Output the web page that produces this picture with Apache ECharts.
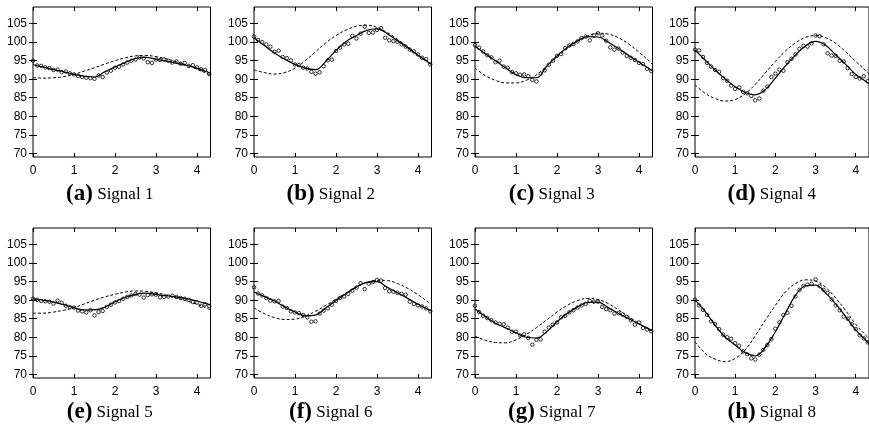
<!DOCTYPE html>
<html>
<head>
<meta charset="utf-8">
<script src="https://cdn.jsdelivr.net/npm/echarts@6/dist/echarts.min.js"></script>
<style>
  html, body { margin: 0; padding: 0; background: #fff; }
  #chart { width: 869px; height: 437px; }
</style>
</head>
<body>
<div id="chart"></div>
<script>
// x positions of the fitted curves and of the measured points
const lineX = [0, 0.25, 0.5, 0.75, 1, 1.25, 1.5, 1.75, 2, 2.25, 2.5, 2.75, 3, 3.25, 3.5, 3.75, 4, 4.25, 4.33];
const pointX = [0, 0.1, 0.2, 0.3, 0.4, 0.5, 0.6, 0.7, 0.8, 0.9, 1.0, 1.1, 1.2, 1.3, 1.4, 1.5, 1.6, 1.7, 1.8, 1.9, 2.0, 2.1,
  2.2, 2.3, 2.4, 2.5, 2.6, 2.7, 2.8, 2.9, 3.0, 3.1, 3.2, 3.3, 3.4, 3.5, 3.6, 3.7, 3.8, 3.9, 4.0, 4.1, 4.2, 4.3];

const xTicks = [0, 1, 2, 3, 4];
const yTicks = [70, 75, 80, 85, 90, 95, 100, 105];

const tags = ['(a)', '(b)', '(c)', '(d)', '(e)', '(f)', '(g)', '(h)'];
const names = ['Signal 1', 'Signal 2', 'Signal 3', 'Signal 4', 'Signal 5', 'Signal 6', 'Signal 7', 'Signal 8'];

// Signal 1
const s1Solid = [93.9, 93.3, 92.6, 92.0, 91.3, 90.8, 90.6, 92.0, 93.3, 94.5, 95.6, 95.9, 95.4, 94.9, 94.3, 93.7, 93.0, 92.0, 91.6];
const s1Dashed = [90.4, 90.3, 90.4, 90.7, 91.3, 92.2, 93.1, 94.1, 95.0, 95.8, 96.3, 96.4, 96.1, 95.5, 94.7, 93.8, 92.7, 91.5, 91.1];
const s1Points = [95.0, 93.7, 93.6, 93.2, 93.0, 92.5, 92.6, 91.9, 92.1, 91.6, 91.3, 90.9, 90.6, 90.4, 90.3, 90.1, 91.0, 90.6, 91.8, 92.3, 93.1, 93.4,
  94.0, 94.5, 95.0, 95.3, 95.9, 95.6, 94.6, 94.4, 95.3, 95.2, 95.4, 95.0, 94.5, 94.8, 94.2, 94.4, 93.6, 93.8, 93.2, 92.7, 92.5, 91.4];

// Signal 2
const s2Solid = [101.2, 99.1, 97.1, 95.4, 94.0, 93.0, 92.6, 94.8, 97.8, 100.2, 101.8, 103.2, 103.6, 102.3, 100.4, 98.5, 96.5, 94.6, 94.0];
const s2Dashed = [92.5, 91.8, 91.4, 91.8, 93.0, 95.0, 97.4, 99.8, 101.8, 103.3, 104.3, 104.6, 104.0, 102.6, 100.8, 98.7, 96.6, 94.5, 93.9];
const s2Points = [101.5, 100.6, 100.0, 99.4, 98.8, 97.4, 97.7, 96.0, 95.7, 95.1, 94.0, 93.8, 93.1, 92.9, 92.0, 91.5, 91.9, 93.5, 95.1, 95.3, 97.6, 98.5,
  99.4, 99.6, 101.7, 101.0, 102.3, 104.2, 102.5, 102.6, 103.3, 103.8, 101.2, 100.5, 100.3, 100.1, 99.4, 98.8, 98.0, 97.5, 96.7, 95.8, 95.4, 94.0];

// Signal 3
const s3Solid = [98.9, 96.9, 95.0, 93.0, 91.2, 90.4, 90.4, 93.5, 96.3, 98.6, 100.4, 101.5, 101.4, 100.0, 98.3, 96.4, 94.6, 92.8, 92.2];
const s3Dashed = [93.0, 91.0, 89.7, 89.0, 89.0, 89.7, 91.2, 93.5, 96.0, 98.3, 100.2, 101.7, 102.4, 102.2, 101.2, 99.5, 97.3, 94.9, 94.0];
const s3Points = [99.2, 98.5, 97.5, 96.5, 95.9, 94.6, 95.0, 93.4, 93.1, 91.9, 91.6, 91.2, 91.3, 90.8, 89.8, 89.4, 91.5, 92.4, 93.9, 95.0, 96.3, 96.8,
  98.4, 99.1, 99.5, 100.2, 101.1, 101.5, 100.5, 101.8, 102.4, 101.8, 100.4, 98.6, 98.0, 98.3, 97.2, 96.3, 95.8, 95.2, 94.4, 94.1, 92.8, 92.2];

// Signal 4
const s4Solid = [97.9, 95.2, 92.5, 90.1, 88.0, 86.4, 85.8, 87.2, 90.3, 93.6, 96.5, 99.0, 100.2, 99.2, 96.6, 94.0, 91.3, 89.4, 88.8];
const s4Dashed = [88.5, 86.2, 84.8, 84.1, 84.5, 86.1, 88.6, 91.7, 94.8, 97.6, 99.8, 101.3, 101.8, 101.2, 99.7, 97.4, 94.8, 92.3, 91.5];
const s4Points = [98.0, 97.8, 96.0, 94.4, 93.4, 92.5, 92.0, 90.3, 89.6, 88.3, 87.4, 87.8, 86.6, 86.2, 85.5, 84.3, 84.8, 86.9, 88.0, 90.6, 91.5, 92.6,
  92.3, 94.6, 95.5, 96.7, 98.2, 99.0, 98.8, 99.7, 101.8, 101.6, 99.4, 97.0, 96.4, 96.3, 95.0, 94.8, 93.0, 91.4, 90.6, 90.2, 90.8, 89.5];

// Signal 5
const s5Solid = [90.4, 90.0, 89.5, 88.8, 88.0, 87.4, 87.4, 88.1, 89.6, 90.8, 91.6, 91.9, 91.6, 91.2, 90.9, 90.4, 89.8, 89.0, 88.7];
const s5Dashed = [86.5, 86.5, 86.8, 87.3, 88.0, 89.0, 90.0, 90.9, 91.6, 92.2, 92.5, 92.4, 92.0, 91.4, 90.6, 89.8, 88.9, 87.8, 87.4];
const s5Points = [90.4, 90.1, 89.8, 89.7, 89.6, 89.1, 89.9, 89.3, 88.5, 88.1, 88.0, 87.2, 87.0, 86.7, 87.3, 85.9, 86.8, 87.1, 88.2, 88.8, 89.4, 89.8,
  90.4, 90.9, 91.3, 91.7, 91.5, 90.7, 91.4, 91.6, 91.5, 90.8, 90.9, 91.0, 91.2, 90.9, 90.6, 90.4, 90.1, 89.5, 89.4, 88.5, 88.9, 88.4];

// Signal 6
const s6Solid = [92.2, 91.0, 89.8, 88.2, 86.8, 85.8, 86.0, 87.9, 89.9, 91.8, 93.6, 94.8, 95.0, 93.5, 92.0, 90.5, 88.9, 87.5, 87.0];
const s6Dashed = [87.9, 86.4, 85.3, 84.8, 84.9, 85.7, 87.0, 88.6, 90.3, 92.0, 93.6, 94.8, 95.4, 95.3, 94.5, 93.2, 91.5, 89.5, 88.8];
const s6Points = [93.5, 91.8, 91.3, 90.6, 89.9, 89.7, 89.8, 88.3, 87.9, 87.0, 86.7, 86.5, 86.0, 85.4, 84.2, 84.3, 86.4, 87.2, 87.8, 88.8, 89.8, 90.6,
  91.0, 91.7, 92.6, 93.4, 94.6, 93.0, 94.5, 94.9, 95.5, 95.3, 93.3, 92.4, 92.3, 92.0, 91.7, 91.5, 89.6, 89.0, 88.6, 88.3, 87.8, 87.0];

// Signal 7
const s7Solid = [87.7, 85.6, 83.8, 82.5, 81.2, 80.0, 79.8, 81.5, 84.2, 86.4, 88.2, 89.4, 89.5, 88.0, 86.5, 85.0, 83.6, 82.2, 81.8];
const s7Dashed = [80.3, 79.2, 78.6, 78.5, 79.3, 80.8, 82.6, 84.7, 86.8, 88.6, 89.9, 90.5, 90.2, 89.1, 87.4, 85.6, 83.7, 82.0, 81.5];
const s7Points = [88.5, 86.8, 85.8, 85.2, 84.6, 84.0, 83.6, 83.5, 82.6, 81.5, 81.5, 80.5, 80.8, 79.8, 78.0, 79.3, 79.4, 81.5, 82.6, 83.4, 84.0, 85.4,
  85.8, 86.7, 87.3, 88.0, 88.6, 89.0, 89.8, 89.6, 89.6, 88.2, 87.6, 87.3, 86.4, 86.5, 86.1, 85.5, 84.6, 83.4, 84.0, 82.5, 82.1, 81.6];

// Signal 8
const s8Solid = [90.1, 87.0, 83.3, 80.0, 77.9, 75.8, 75.0, 77.3, 81.5, 86.5, 91.3, 93.9, 94.1, 92.0, 89.0, 85.6, 82.0, 79.2, 78.4];
const s8Dashed = [78.8, 75.7, 74.1, 73.4, 74.3, 76.6, 80.4, 84.6, 88.6, 92.2, 94.5, 95.5, 95.2, 93.5, 90.6, 87.2, 83.5, 80.5, 79.7];
const s8Points = [90.2, 88.6, 87.4, 86.0, 84.3, 83.6, 82.2, 80.7, 80.0, 79.6, 78.4, 77.7, 76.2, 75.4, 74.3, 74.0, 75.3, 76.6, 77.9, 79.5, 82.3, 84.0,
  86.0, 86.6, 88.5, 91.0, 92.8, 93.8, 94.2, 94.4, 95.6, 93.8, 92.8, 92.0, 90.2, 88.6, 87.3, 85.6, 85.0, 83.5, 82.2, 80.5, 79.7, 78.6];

const solids = [s1Solid, s2Solid, s3Solid, s4Solid, s5Solid, s6Solid, s7Solid, s8Solid];
const dashes = [s1Dashed, s2Dashed, s3Dashed, s4Dashed, s5Dashed, s6Dashed, s7Dashed, s8Dashed];
const points = [s1Points, s2Points, s3Points, s4Points, s5Points, s6Points, s7Points, s8Points];

const lefts = [33, 254, 475, 695];
const tops = [7, 228];
const captionTops = [183, 401];
const W = 177.5, H = 150;

const labelFont = { color: '#000', fontSize: 12, fontFamily: 'Liberation Sans' };
const tickStyle = { color: '#000', width: 1 };

const grid = [], xAxis = [], yAxis = [], series = [], title = [];

for (let i = 0; i < 8; i++) {
  const col = i % 4, row = Math.floor(i / 4);
  grid.push({
    left: lefts[col], top: tops[row], width: W, height: H,
    show: true, borderColor: '#000', borderWidth: 1, backgroundColor: 'transparent'
  });

  // bottom + mirrored top x axis
  xAxis.push({
    gridIndex: i, type: 'value', min: 0, max: 4.33, position: 'bottom',
    axisLine: { show: false }, splitLine: { show: false },
    axisTick: { inside: true, length: 4, customValues: xTicks, lineStyle: tickStyle },
    axisLabel: Object.assign({ customValues: xTicks, margin: 8 }, labelFont)
  });
  xAxis.push({
    gridIndex: i, type: 'value', min: 0, max: 4.33, position: 'top',
    axisLine: { show: false }, splitLine: { show: false },
    axisTick: { inside: true, length: 4, customValues: xTicks, lineStyle: tickStyle },
    axisLabel: { show: false }
  });

  // left + mirrored right y axis
  yAxis.push({
    gridIndex: i, type: 'value', min: 69, max: 109.5, position: 'left',
    axisLine: { show: false }, splitLine: { show: false },
    axisTick: { inside: true, length: 4, customValues: yTicks, lineStyle: tickStyle },
    axisLabel: Object.assign({ customValues: yTicks, margin: 6 }, labelFont)
  });
  yAxis.push({
    gridIndex: i, type: 'value', min: 69, max: 109.5, position: 'right',
    axisLine: { show: false }, splitLine: { show: false },
    axisTick: { inside: true, length: 4, customValues: yTicks, lineStyle: tickStyle },
    axisLabel: { show: false }
  });

  series.push({
    type: 'line', xAxisIndex: 2 * i, yAxisIndex: 2 * i,
    data: lineX.map((x, k) => [x, dashes[i][k]]),
    smooth: 0.4, showSymbol: false, silent: true,
    lineStyle: { color: '#000', width: 1, type: [3, 2] }
  });
  series.push({
    type: 'line', xAxisIndex: 2 * i, yAxisIndex: 2 * i,
    data: lineX.map((x, k) => [x, solids[i][k]]),
    smooth: 0.4, showSymbol: false, silent: true,
    lineStyle: { color: '#000', width: 1.2 }
  });
  series.push({
    type: 'scatter', xAxisIndex: 2 * i, yAxisIndex: 2 * i,
    data: pointX.map((x, k) => [x, points[i][k]]),
    symbol: 'circle', symbolSize: 3.5, silent: true,
    itemStyle: { color: 'rgba(0,0,0,0)', borderColor: '#000', borderWidth: 1 }
  });

  title.push({
    text: '{b|' + tags[i] + '}{s| ' + names[i] + '}',
    left: lefts[col] + W / 2 - 12, top: captionTops[row],
    textAlign: 'center', padding: 0,
    textStyle: {
      rich: {
        b: { fontFamily: 'Liberation Serif', fontWeight: 'bold', fontSize: 23, color: '#000' },
        s: { fontFamily: 'Liberation Serif', fontWeight: 'normal', fontSize: 17, color: '#000' }
      }
    }
  });
}

const chart = echarts.init(document.getElementById('chart'), null, { renderer: 'canvas' });
chart.setOption({
  animation: false,
  backgroundColor: '#fff',
  title: title,
  grid: grid,
  xAxis: xAxis,
  yAxis: yAxis,
  series: series
});
</script>
</body>
</html>
